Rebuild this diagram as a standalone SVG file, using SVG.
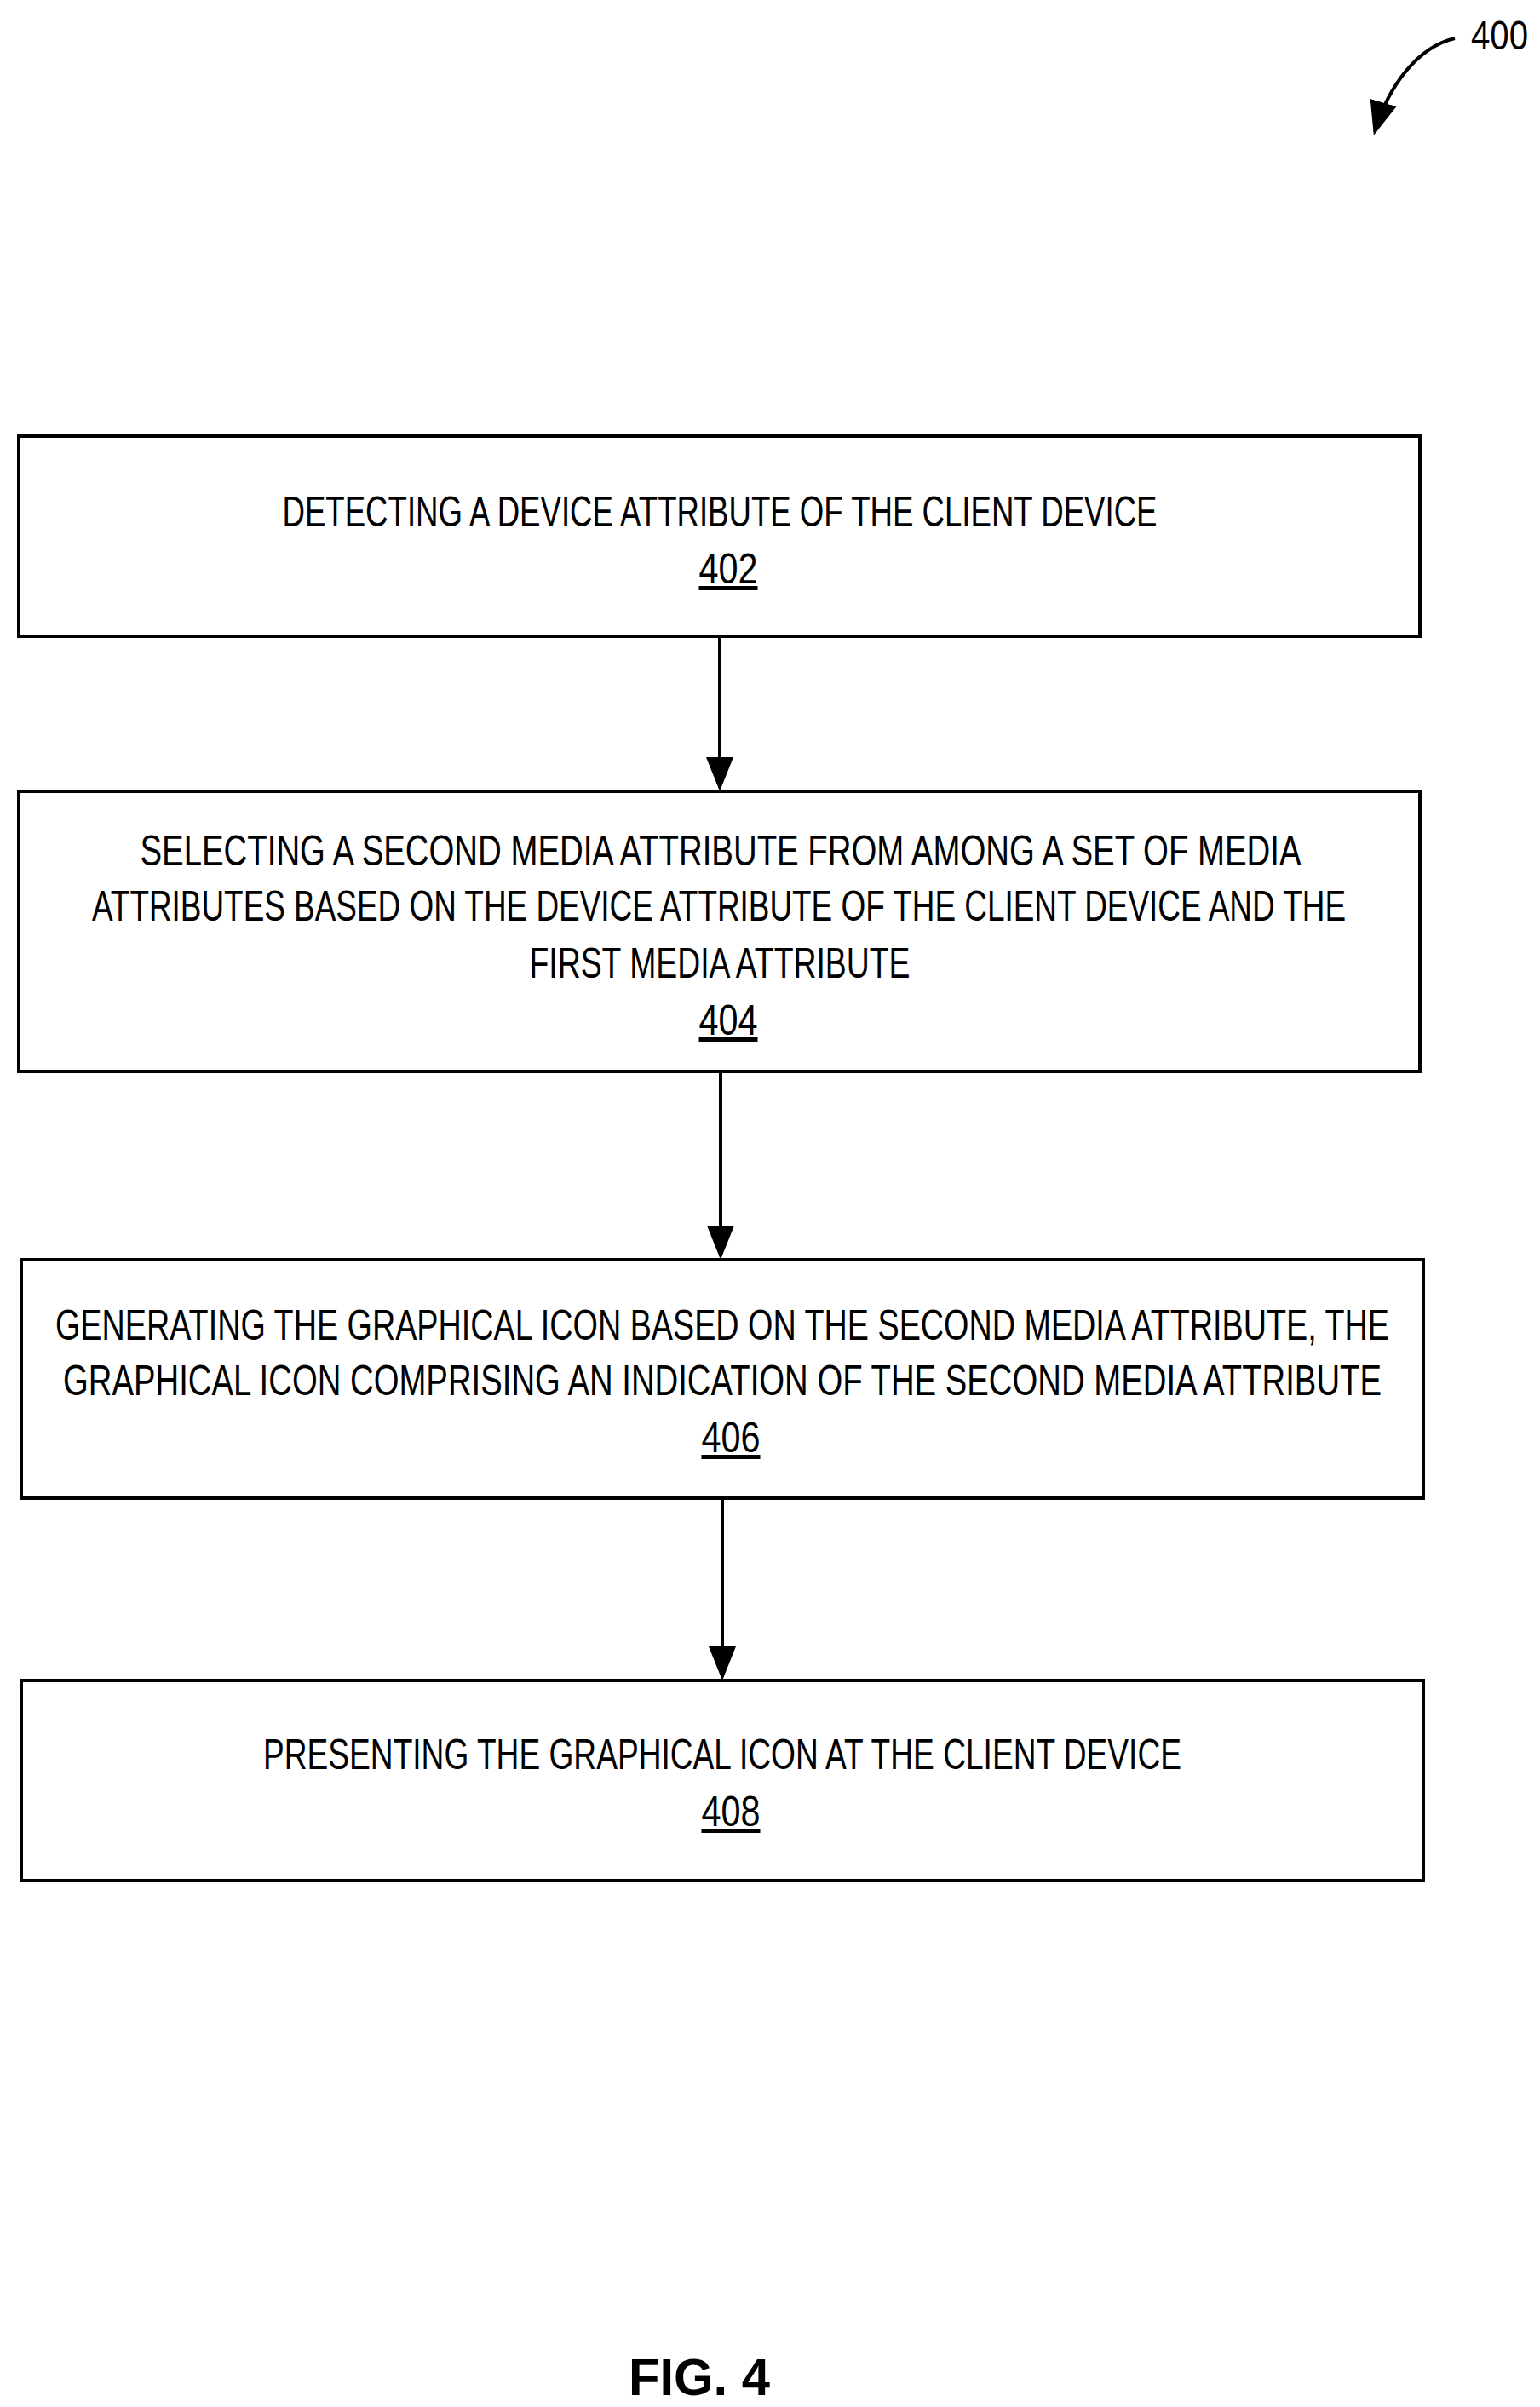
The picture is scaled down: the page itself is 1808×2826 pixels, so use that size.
<svg xmlns="http://www.w3.org/2000/svg" width="1808" height="2826" viewBox="0 0 1808 2826">
<style>
.b{fill:#fff;stroke:#000;stroke-width:4}
.t{font-family:"Liberation Sans",Arial,sans-serif;font-size:50px;text-anchor:middle;fill:#000}
.c{stroke:#000;stroke-width:4;fill:none}
</style>
<defs><marker id="a" markerWidth="10" markerHeight="10" refX="9" refY="5" orient="auto" markerUnits="strokeWidth"><path d="M0,1 L10,5 L0,9 Z" fill="#000"/></marker></defs>
<rect width="1808" height="2826" fill="#fff"/>
<g id="ref400"><text x="1727" y="58" font-family="Liberation Sans,Arial,sans-serif" font-size="48" textLength="67" lengthAdjust="spacingAndGlyphs">400</text>
<path class="c" d="M1708,45 C1665,55 1630,100 1614,155" marker-end="url(#a)"/></g>
<g id="connectors">
<line class="c" x1="845" y1="749" x2="845" y2="925" marker-end="url(#a)"/>
<line class="c" x1="846" y1="1260" x2="846" y2="1475" marker-end="url(#a)"/>
<line class="c" x1="848" y1="1761" x2="848" y2="1969" marker-end="url(#a)"/>
</g>
<g id="n402"><rect class="b" x="22" y="512" width="1645" height="235"/>
<text class="t" x="845" y="618" textLength="1027" lengthAdjust="spacingAndGlyphs">DETECTING A DEVICE ATTRIBUTE OF THE CLIENT DEVICE</text>
<text class="t" x="855" y="685" text-decoration="underline" textLength="69" lengthAdjust="spacingAndGlyphs">402</text></g>
<g id="n404"><rect class="b" x="22" y="929" width="1645" height="329"/>
<text class="t" x="846" y="1016" textLength="1363" lengthAdjust="spacingAndGlyphs">SELECTING A SECOND MEDIA ATTRIBUTE FROM AMONG A SET OF MEDIA</text>
<text class="t" x="844" y="1081" textLength="1472" lengthAdjust="spacingAndGlyphs">ATTRIBUTES BASED ON THE DEVICE ATTRIBUTE OF THE CLIENT DEVICE AND THE</text>
<text class="t" x="845" y="1148" textLength="447" lengthAdjust="spacingAndGlyphs">FIRST MEDIA ATTRIBUTE</text>
<text class="t" x="855" y="1215" text-decoration="underline" textLength="69" lengthAdjust="spacingAndGlyphs">404</text></g>
<g id="n406"><rect class="b" x="25" y="1479" width="1646" height="280"/>
<text class="t" x="848" y="1573" textLength="1566" lengthAdjust="spacingAndGlyphs">GENERATING THE GRAPHICAL ICON BASED ON THE SECOND MEDIA ATTRIBUTE, THE</text>
<text class="t" x="848" y="1638" textLength="1548" lengthAdjust="spacingAndGlyphs">GRAPHICAL ICON COMPRISING AN INDICATION OF THE SECOND MEDIA ATTRIBUTE</text>
<text class="t" x="858" y="1705" text-decoration="underline" textLength="69" lengthAdjust="spacingAndGlyphs">406</text></g>
<g id="n408"><rect class="b" x="25" y="1973" width="1646" height="235"/>
<text class="t" x="848" y="2077" textLength="1078" lengthAdjust="spacingAndGlyphs">PRESENTING THE GRAPHICAL ICON AT THE CLIENT DEVICE</text>
<text class="t" x="858" y="2144" text-decoration="underline" textLength="69" lengthAdjust="spacingAndGlyphs">408</text></g>
<text x="821" y="2812" font-family="Liberation Sans,Arial,sans-serif" font-size="62" font-weight="bold" text-anchor="middle" textLength="166" lengthAdjust="spacingAndGlyphs">FIG. 4</text>
</svg>
